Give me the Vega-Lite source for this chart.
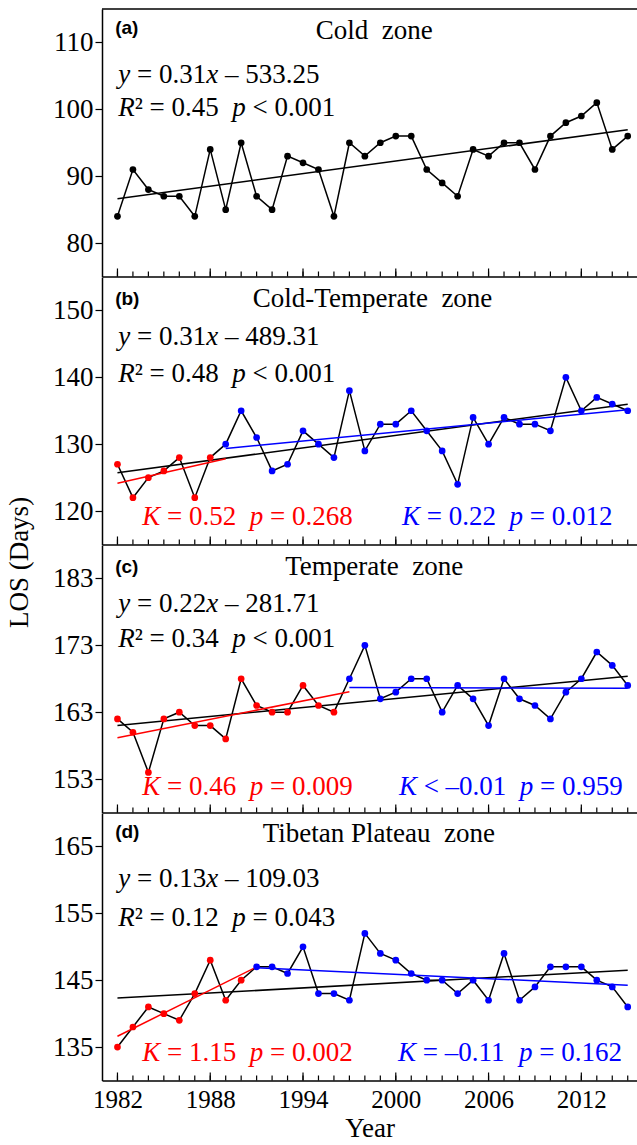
{
"$schema": "https://vega.github.io/schema/vega-lite/v6.json",
"padding": {"left": 4, "top": 8, "right": 0, "bottom": 0},
"spacing": 0,
"bounds": "flush",
"config": {
  "font": "Liberation Serif",
  "view": {"stroke": null},
  "axis": {"grid": false, "domainColor": "black", "domainWidth": 1.5, "tickColor": "black", "tickWidth": 1.2, "labelFont": "Liberation Serif", "labelFontSize": 27, "labelColor": "black", "titleFont": "Liberation Serif", "titleFontSize": 27, "titleFontWeight": "normal", "titleColor": "black"},
  "axisY": {"tickSize": 7, "labelPadding": 2},
  "text": {"font": "Liberation Serif", "fontSize": 27, "baseline": "alphabetic", "align": "left", "color": "black"}
},
"datasets": {
  "a": [
    {"year":1982,"los":84,"seg":"all"},{"year":1983,"los":91,"seg":"all"},{"year":1984,"los":88,"seg":"all"},{"year":1985,"los":87,"seg":"all"},{"year":1986,"los":87,"seg":"all"},{"year":1987,"los":84,"seg":"all"},{"year":1988,"los":94,"seg":"all"},{"year":1989,"los":85,"seg":"all"},{"year":1990,"los":95,"seg":"all"},{"year":1991,"los":87,"seg":"all"},{"year":1992,"los":85,"seg":"all"},{"year":1993,"los":93,"seg":"all"},{"year":1994,"los":92,"seg":"all"},{"year":1995,"los":91,"seg":"all"},{"year":1996,"los":84,"seg":"all"},{"year":1997,"los":95,"seg":"all"},{"year":1998,"los":93,"seg":"all"},{"year":1999,"los":95,"seg":"all"},{"year":2000,"los":96,"seg":"all"},{"year":2001,"los":96,"seg":"all"},{"year":2002,"los":91,"seg":"all"},{"year":2003,"los":89,"seg":"all"},{"year":2004,"los":87,"seg":"all"},{"year":2005,"los":94,"seg":"all"},{"year":2006,"los":93,"seg":"all"},{"year":2007,"los":95,"seg":"all"},{"year":2008,"los":95,"seg":"all"},{"year":2009,"los":91,"seg":"all"},{"year":2010,"los":96,"seg":"all"},{"year":2011,"los":98,"seg":"all"},{"year":2012,"los":99,"seg":"all"},{"year":2013,"los":101,"seg":"all"},{"year":2014,"los":94,"seg":"all"},{"year":2015,"los":96,"seg":"all"}
  ],
  "b": [
    {"year":1982,"los":127,"seg":"early"},{"year":1983,"los":122,"seg":"early"},{"year":1984,"los":125,"seg":"early"},{"year":1985,"los":126,"seg":"early"},{"year":1986,"los":128,"seg":"early"},{"year":1987,"los":122,"seg":"early"},{"year":1988,"los":128,"seg":"early"},{"year":1989,"los":130,"seg":"late"},{"year":1990,"los":135,"seg":"late"},{"year":1991,"los":131,"seg":"late"},{"year":1992,"los":126,"seg":"late"},{"year":1993,"los":127,"seg":"late"},{"year":1994,"los":132,"seg":"late"},{"year":1995,"los":130,"seg":"late"},{"year":1996,"los":128,"seg":"late"},{"year":1997,"los":138,"seg":"late"},{"year":1998,"los":129,"seg":"late"},{"year":1999,"los":133,"seg":"late"},{"year":2000,"los":133,"seg":"late"},{"year":2001,"los":135,"seg":"late"},{"year":2002,"los":132,"seg":"late"},{"year":2003,"los":129,"seg":"late"},{"year":2004,"los":124,"seg":"late"},{"year":2005,"los":134,"seg":"late"},{"year":2006,"los":130,"seg":"late"},{"year":2007,"los":134,"seg":"late"},{"year":2008,"los":133,"seg":"late"},{"year":2009,"los":133,"seg":"late"},{"year":2010,"los":132,"seg":"late"},{"year":2011,"los":140,"seg":"late"},{"year":2012,"los":135,"seg":"late"},{"year":2013,"los":137,"seg":"late"},{"year":2014,"los":136,"seg":"late"},{"year":2015,"los":135,"seg":"late"}
  ],
  "c": [
    {"year":1982,"los":162,"seg":"early"},{"year":1983,"los":160,"seg":"early"},{"year":1984,"los":154,"seg":"early"},{"year":1985,"los":162,"seg":"early"},{"year":1986,"los":163,"seg":"early"},{"year":1987,"los":161,"seg":"early"},{"year":1988,"los":161,"seg":"early"},{"year":1989,"los":159,"seg":"early"},{"year":1990,"los":168,"seg":"early"},{"year":1991,"los":164,"seg":"early"},{"year":1992,"los":163,"seg":"early"},{"year":1993,"los":163,"seg":"early"},{"year":1994,"los":167,"seg":"early"},{"year":1995,"los":164,"seg":"early"},{"year":1996,"los":163,"seg":"early"},{"year":1997,"los":168,"seg":"late"},{"year":1998,"los":173,"seg":"late"},{"year":1999,"los":165,"seg":"late"},{"year":2000,"los":166,"seg":"late"},{"year":2001,"los":168,"seg":"late"},{"year":2002,"los":168,"seg":"late"},{"year":2003,"los":163,"seg":"late"},{"year":2004,"los":167,"seg":"late"},{"year":2005,"los":165,"seg":"late"},{"year":2006,"los":161,"seg":"late"},{"year":2007,"los":168,"seg":"late"},{"year":2008,"los":165,"seg":"late"},{"year":2009,"los":164,"seg":"late"},{"year":2010,"los":162,"seg":"late"},{"year":2011,"los":166,"seg":"late"},{"year":2012,"los":168,"seg":"late"},{"year":2013,"los":172,"seg":"late"},{"year":2014,"los":170,"seg":"late"},{"year":2015,"los":167,"seg":"late"}
  ],
  "d": [
    {"year":1982,"los":135,"seg":"early"},{"year":1983,"los":138,"seg":"early"},{"year":1984,"los":141,"seg":"early"},{"year":1985,"los":140,"seg":"early"},{"year":1986,"los":139,"seg":"early"},{"year":1987,"los":143,"seg":"early"},{"year":1988,"los":148,"seg":"early"},{"year":1989,"los":142,"seg":"early"},{"year":1990,"los":145,"seg":"early"},{"year":1991,"los":147,"seg":"late"},{"year":1992,"los":147,"seg":"late"},{"year":1993,"los":146,"seg":"late"},{"year":1994,"los":150,"seg":"late"},{"year":1995,"los":143,"seg":"late"},{"year":1996,"los":143,"seg":"late"},{"year":1997,"los":142,"seg":"late"},{"year":1998,"los":152,"seg":"late"},{"year":1999,"los":149,"seg":"late"},{"year":2000,"los":148,"seg":"late"},{"year":2001,"los":146,"seg":"late"},{"year":2002,"los":145,"seg":"late"},{"year":2003,"los":145,"seg":"late"},{"year":2004,"los":143,"seg":"late"},{"year":2005,"los":145,"seg":"late"},{"year":2006,"los":142,"seg":"late"},{"year":2007,"los":149,"seg":"late"},{"year":2008,"los":142,"seg":"late"},{"year":2009,"los":144,"seg":"late"},{"year":2010,"los":147,"seg":"late"},{"year":2011,"los":147,"seg":"late"},{"year":2012,"los":147,"seg":"late"},{"year":2013,"los":145,"seg":"late"},{"year":2014,"los":144,"seg":"late"},{"year":2015,"los":141,"seg":"late"}
  ]
},
"vconcat": [
  {
    "width": 535, "height": 267.5,
    "layer": [
      {"data": {"name": "a"}, "mark": {"type": "line", "color": "black", "strokeWidth": 1.5},
       "encoding": {
        "x": {"field": "year", "type": "quantitative", "scale": {"domain": [1981, 2015.6], "nice": false, "zero": false},
              "axis": {"values": [1982, 1988, 1994, 2000, 2006, 2012], "ticks": false, "labels": false, "title": null}},
        "y": {"field": "los", "type": "quantitative", "scale": {"domain": [75, 115], "nice": false, "zero": false}, "axis": {"values": [80, 90, 100, 110], "title": null}}}},
      {"data": {"name": "a"}, "mark": {"type": "rule", "color": "black", "strokeWidth": 1.2},
       "encoding": {"x": {"field": "year", "type": "quantitative"}, "y": {"datum": 75, "type": "quantitative"}, "y2": {"datum": 75.75}}},
      {"data": {"name": "a"}, "transform": [{"filter": "(datum.year - 1982) % 6 == 0"}], "mark": {"type": "rule", "color": "black", "strokeWidth": 1.2},
       "encoding": {"x": {"field": "year", "type": "quantitative"}, "y": {"datum": 75, "type": "quantitative"}, "y2": {"datum": 76.2}}},
      {"data": {"name": "a"}, "transform": [{"regression": "los", "on": "year"}], "mark": {"type": "line", "color": "black", "strokeWidth": 1.5},
       "encoding": {"x": {"field": "year", "type": "quantitative"}, "y": {"field": "los", "type": "quantitative"}}},
      {"data": {"name": "a"}, "mark": {"type": "circle", "size": 45, "opacity": 1, "color": "black"},
       "encoding": {"x": {"field": "year", "type": "quantitative"}, "y": {"field": "los", "type": "quantitative"}}},
      {"data": {"values": [{}]}, "mark": {"type": "rule", "color": "black", "strokeWidth": 1.5}, "encoding": {"x": {"datum": 1981, "type": "quantitative"}, "x2": {"datum": 2015.6}, "y": {"datum": 115, "type": "quantitative"}}},
      {"data": {"values": [{}]}, "mark": {"type": "text", "text": "(a)", "font": "Liberation Sans", "fontWeight": "bold", "fontSize": 19}, "encoding": {"x": {"datum": 1981.85, "type": "quantitative"}, "y": {"datum": 111.25, "type": "quantitative"}}},
      {"data": {"values": [{}]}, "mark": {"type": "text", "text": "Cold\u00a0 zone", "align": "center"}, "encoding": {"x": {"datum": 1998.6, "type": "quantitative"}, "y": {"datum": 110.47, "type": "quantitative"}}},
      {"data": {"values": [{}]}, "mark": {"type": "text", "text": "y", "fontStyle": "italic"}, "encoding": {"x": {"datum": 1982.05, "type": "quantitative"}, "y": {"datum": 103.98, "type": "quantitative"}}},
      {"data": {"values": [{}]}, "mark": {"type": "text", "text": "= 0.31"}, "encoding": {"x": {"datum": 1983.262, "type": "quantitative"}, "y": {"datum": 103.98, "type": "quantitative"}}},
      {"data": {"values": [{}]}, "mark": {"type": "text", "text": "x", "fontStyle": "italic"}, "encoding": {"x": {"datum": 1987.739, "type": "quantitative"}, "y": {"datum": 103.98, "type": "quantitative"}}},
      {"data": {"values": [{}]}, "mark": {"type": "text", "text": "– 533.25"}, "encoding": {"x": {"datum": 1988.951, "type": "quantitative"}, "y": {"datum": 103.98, "type": "quantitative"}}},
      {"data": {"values": [{}]}, "mark": {"type": "text", "text": "R", "fontStyle": "italic"}, "encoding": {"x": {"datum": 1982.05, "type": "quantitative"}, "y": {"datum": 99.0, "type": "quantitative"}}},
      {"data": {"values": [{}]}, "mark": {"type": "text", "text": "² = 0.45"}, "encoding": {"x": {"datum": 1983.117, "type": "quantitative"}, "y": {"datum": 99.0, "type": "quantitative"}}},
      {"data": {"values": [{}]}, "mark": {"type": "text", "text": "p", "fontStyle": "italic"}, "encoding": {"x": {"datum": 1989.428, "type": "quantitative"}, "y": {"datum": 99.0, "type": "quantitative"}}},
      {"data": {"values": [{}]}, "mark": {"type": "text", "text": "< 0.001"}, "encoding": {"x": {"datum": 1990.737, "type": "quantitative"}, "y": {"datum": 99.0, "type": "quantitative"}}}
    ]
  },
  {
    "width": 535, "height": 267.5,
    "layer": [
      {"data": {"name": "b"}, "mark": {"type": "line", "color": "black", "strokeWidth": 1.5},
       "encoding": {
        "x": {"field": "year", "type": "quantitative", "scale": {"domain": [1981, 2015.6], "nice": false, "zero": false},
              "axis": {"values": [1982, 1988, 1994, 2000, 2006, 2012], "ticks": false, "labels": false, "title": null}},
        "y": {"field": "los", "type": "quantitative", "scale": {"domain": [115, 155], "nice": false, "zero": false}, "axis": {"values": [120, 130, 140, 150], "title": null}}}},
      {"data": {"name": "b"}, "mark": {"type": "rule", "color": "black", "strokeWidth": 1.2},
       "encoding": {"x": {"field": "year", "type": "quantitative"}, "y": {"datum": 115, "type": "quantitative"}, "y2": {"datum": 115.75}}},
      {"data": {"name": "b"}, "transform": [{"filter": "(datum.year - 1982) % 6 == 0"}], "mark": {"type": "rule", "color": "black", "strokeWidth": 1.2},
       "encoding": {"x": {"field": "year", "type": "quantitative"}, "y": {"datum": 115, "type": "quantitative"}, "y2": {"datum": 116.2}}},
      {"data": {"name": "b"}, "transform": [{"regression": "los", "on": "year"}], "mark": {"type": "line", "color": "black", "strokeWidth": 1.5},
       "encoding": {"x": {"field": "year", "type": "quantitative"}, "y": {"field": "los", "type": "quantitative"}}},
      {"data": {"name": "b"}, "transform": [{"filter": "datum.year <= 1989"}, {"regression": "los", "on": "year"}], "mark": {"type": "line", "color": "#ff0000", "strokeWidth": 1.5},
       "encoding": {"x": {"field": "year", "type": "quantitative"}, "y": {"field": "los", "type": "quantitative"}}},
      {"data": {"name": "b"}, "transform": [{"filter": "datum.year >= 1989"}, {"regression": "los", "on": "year"}], "mark": {"type": "line", "color": "#0000ff", "strokeWidth": 1.5},
       "encoding": {"x": {"field": "year", "type": "quantitative"}, "y": {"field": "los", "type": "quantitative"}}},
      {"data": {"name": "b"}, "mark": {"type": "circle", "size": 45, "opacity": 1},
       "encoding": {"x": {"field": "year", "type": "quantitative"}, "y": {"field": "los", "type": "quantitative"}, "color": {"field": "seg", "type": "nominal", "scale": {"domain": ["all", "early", "late"], "range": ["black", "#ff0000", "#0000ff"]}, "legend": null}}},
      {"data": {"values": [{}]}, "mark": {"type": "text", "text": "(b)", "font": "Liberation Sans", "fontWeight": "bold", "fontSize": 19}, "encoding": {"x": {"datum": 1981.85, "type": "quantitative"}, "y": {"datum": 150.85, "type": "quantitative"}}},
      {"data": {"values": [{}]}, "mark": {"type": "text", "text": "Cold-Temperate\u00a0 zone", "align": "center"}, "encoding": {"x": {"datum": 1998.5, "type": "quantitative"}, "y": {"datum": 150.5, "type": "quantitative"}}},
      {"data": {"values": [{}]}, "mark": {"type": "text", "text": "y", "fontStyle": "italic"}, "encoding": {"x": {"datum": 1982.05, "type": "quantitative"}, "y": {"datum": 144.76, "type": "quantitative"}}},
      {"data": {"values": [{}]}, "mark": {"type": "text", "text": "= 0.31"}, "encoding": {"x": {"datum": 1983.262, "type": "quantitative"}, "y": {"datum": 144.76, "type": "quantitative"}}},
      {"data": {"values": [{}]}, "mark": {"type": "text", "text": "x", "fontStyle": "italic"}, "encoding": {"x": {"datum": 1987.739, "type": "quantitative"}, "y": {"datum": 144.76, "type": "quantitative"}}},
      {"data": {"values": [{}]}, "mark": {"type": "text", "text": "– 489.31"}, "encoding": {"x": {"datum": 1988.951, "type": "quantitative"}, "y": {"datum": 144.76, "type": "quantitative"}}},
      {"data": {"values": [{}]}, "mark": {"type": "text", "text": "R", "fontStyle": "italic"}, "encoding": {"x": {"datum": 1982.05, "type": "quantitative"}, "y": {"datum": 139.37, "type": "quantitative"}}},
      {"data": {"values": [{}]}, "mark": {"type": "text", "text": "² = 0.48"}, "encoding": {"x": {"datum": 1983.117, "type": "quantitative"}, "y": {"datum": 139.37, "type": "quantitative"}}},
      {"data": {"values": [{}]}, "mark": {"type": "text", "text": "p", "fontStyle": "italic"}, "encoding": {"x": {"datum": 1989.428, "type": "quantitative"}, "y": {"datum": 139.37, "type": "quantitative"}}},
      {"data": {"values": [{}]}, "mark": {"type": "text", "text": "< 0.001"}, "encoding": {"x": {"datum": 1990.737, "type": "quantitative"}, "y": {"datum": 139.37, "type": "quantitative"}}},
      {"data": {"values": [{}]}, "mark": {"type": "text", "text": "K", "fontStyle": "italic", "color": "#ff0000"}, "encoding": {"x": {"datum": 1983.6, "type": "quantitative"}, "y": {"datum": 117.95, "type": "quantitative"}}},
      {"data": {"values": [{}]}, "mark": {"type": "text", "text": "= 0.52", "color": "#ff0000"}, "encoding": {"x": {"datum": 1985.201, "type": "quantitative"}, "y": {"datum": 117.95, "type": "quantitative"}}},
      {"data": {"values": [{}]}, "mark": {"type": "text", "text": "p", "fontStyle": "italic", "color": "#ff0000"}, "encoding": {"x": {"datum": 1990.552, "type": "quantitative"}, "y": {"datum": 117.95, "type": "quantitative"}}},
      {"data": {"values": [{}]}, "mark": {"type": "text", "text": "= 0.268", "color": "#ff0000"}, "encoding": {"x": {"datum": 1991.861, "type": "quantitative"}, "y": {"datum": 117.95, "type": "quantitative"}}},
      {"data": {"values": [{}]}, "mark": {"type": "text", "text": "K", "fontStyle": "italic", "color": "#0000ff"}, "encoding": {"x": {"datum": 2000.4, "type": "quantitative"}, "y": {"datum": 117.95, "type": "quantitative"}}},
      {"data": {"values": [{}]}, "mark": {"type": "text", "text": "= 0.22", "color": "#0000ff"}, "encoding": {"x": {"datum": 2002.001, "type": "quantitative"}, "y": {"datum": 117.95, "type": "quantitative"}}},
      {"data": {"values": [{}]}, "mark": {"type": "text", "text": "p", "fontStyle": "italic", "color": "#0000ff"}, "encoding": {"x": {"datum": 2007.352, "type": "quantitative"}, "y": {"datum": 117.95, "type": "quantitative"}}},
      {"data": {"values": [{}]}, "mark": {"type": "text", "text": "= 0.012", "color": "#0000ff"}, "encoding": {"x": {"datum": 2008.661, "type": "quantitative"}, "y": {"datum": 117.95, "type": "quantitative"}}}
    ]
  },
  {
    "width": 535, "height": 267.5,
    "layer": [
      {"data": {"name": "c"}, "mark": {"type": "line", "color": "black", "strokeWidth": 1.5},
       "encoding": {
        "x": {"field": "year", "type": "quantitative", "scale": {"domain": [1981, 2015.6], "nice": false, "zero": false},
              "axis": {"values": [1982, 1988, 1994, 2000, 2006, 2012], "ticks": false, "labels": false, "title": null}},
        "y": {"field": "los", "type": "quantitative", "scale": {"domain": [148, 188], "nice": false, "zero": false}, "axis": {"values": [153, 163, 173, 183], "title": "LOS (Days)", "titleX": -69, "titleY": 17}}}},
      {"data": {"name": "c"}, "mark": {"type": "rule", "color": "black", "strokeWidth": 1.2},
       "encoding": {"x": {"field": "year", "type": "quantitative"}, "y": {"datum": 148, "type": "quantitative"}, "y2": {"datum": 148.75}}},
      {"data": {"name": "c"}, "transform": [{"filter": "(datum.year - 1982) % 6 == 0"}], "mark": {"type": "rule", "color": "black", "strokeWidth": 1.2},
       "encoding": {"x": {"field": "year", "type": "quantitative"}, "y": {"datum": 148, "type": "quantitative"}, "y2": {"datum": 149.2}}},
      {"data": {"name": "c"}, "transform": [{"regression": "los", "on": "year"}], "mark": {"type": "line", "color": "black", "strokeWidth": 1.5},
       "encoding": {"x": {"field": "year", "type": "quantitative"}, "y": {"field": "los", "type": "quantitative"}}},
      {"data": {"name": "c"}, "transform": [{"filter": "datum.year <= 1997"}, {"regression": "los", "on": "year"}], "mark": {"type": "line", "color": "#ff0000", "strokeWidth": 1.5},
       "encoding": {"x": {"field": "year", "type": "quantitative"}, "y": {"field": "los", "type": "quantitative"}}},
      {"data": {"name": "c"}, "transform": [{"filter": "datum.year >= 1997"}, {"regression": "los", "on": "year"}], "mark": {"type": "line", "color": "#0000ff", "strokeWidth": 1.5},
       "encoding": {"x": {"field": "year", "type": "quantitative"}, "y": {"field": "los", "type": "quantitative"}}},
      {"data": {"name": "c"}, "mark": {"type": "circle", "size": 45, "opacity": 1},
       "encoding": {"x": {"field": "year", "type": "quantitative"}, "y": {"field": "los", "type": "quantitative"}, "color": {"field": "seg", "type": "nominal", "scale": {"domain": ["all", "early", "late"], "range": ["black", "#ff0000", "#0000ff"]}, "legend": null}}},
      {"data": {"values": [{}]}, "mark": {"type": "text", "text": "(c)", "font": "Liberation Sans", "fontWeight": "bold", "fontSize": 19}, "encoding": {"x": {"datum": 1981.85, "type": "quantitative"}, "y": {"datum": 183.86, "type": "quantitative"}}},
      {"data": {"values": [{}]}, "mark": {"type": "text", "text": "Temperate\u00a0 zone", "align": "center"}, "encoding": {"x": {"datum": 1998.6, "type": "quantitative"}, "y": {"datum": 183.47, "type": "quantitative"}}},
      {"data": {"values": [{}]}, "mark": {"type": "text", "text": "y", "fontStyle": "italic"}, "encoding": {"x": {"datum": 1982.05, "type": "quantitative"}, "y": {"datum": 177.98, "type": "quantitative"}}},
      {"data": {"values": [{}]}, "mark": {"type": "text", "text": "= 0.22"}, "encoding": {"x": {"datum": 1983.262, "type": "quantitative"}, "y": {"datum": 177.98, "type": "quantitative"}}},
      {"data": {"values": [{}]}, "mark": {"type": "text", "text": "x", "fontStyle": "italic"}, "encoding": {"x": {"datum": 1987.739, "type": "quantitative"}, "y": {"datum": 177.98, "type": "quantitative"}}},
      {"data": {"values": [{}]}, "mark": {"type": "text", "text": "– 281.71"}, "encoding": {"x": {"datum": 1988.951, "type": "quantitative"}, "y": {"datum": 177.98, "type": "quantitative"}}},
      {"data": {"values": [{}]}, "mark": {"type": "text", "text": "R", "fontStyle": "italic"}, "encoding": {"x": {"datum": 1982.05, "type": "quantitative"}, "y": {"datum": 172.75, "type": "quantitative"}}},
      {"data": {"values": [{}]}, "mark": {"type": "text", "text": "² = 0.34"}, "encoding": {"x": {"datum": 1983.117, "type": "quantitative"}, "y": {"datum": 172.75, "type": "quantitative"}}},
      {"data": {"values": [{}]}, "mark": {"type": "text", "text": "p", "fontStyle": "italic"}, "encoding": {"x": {"datum": 1989.428, "type": "quantitative"}, "y": {"datum": 172.75, "type": "quantitative"}}},
      {"data": {"values": [{}]}, "mark": {"type": "text", "text": "< 0.001"}, "encoding": {"x": {"datum": 1990.737, "type": "quantitative"}, "y": {"datum": 172.75, "type": "quantitative"}}},
      {"data": {"values": [{}]}, "mark": {"type": "text", "text": "K", "fontStyle": "italic", "color": "#ff0000"}, "encoding": {"x": {"datum": 1983.6, "type": "quantitative"}, "y": {"datum": 150.57, "type": "quantitative"}}},
      {"data": {"values": [{}]}, "mark": {"type": "text", "text": "= 0.46", "color": "#ff0000"}, "encoding": {"x": {"datum": 1985.201, "type": "quantitative"}, "y": {"datum": 150.57, "type": "quantitative"}}},
      {"data": {"values": [{}]}, "mark": {"type": "text", "text": "p", "fontStyle": "italic", "color": "#ff0000"}, "encoding": {"x": {"datum": 1990.552, "type": "quantitative"}, "y": {"datum": 150.57, "type": "quantitative"}}},
      {"data": {"values": [{}]}, "mark": {"type": "text", "text": "= 0.009", "color": "#ff0000"}, "encoding": {"x": {"datum": 1991.861, "type": "quantitative"}, "y": {"datum": 150.57, "type": "quantitative"}}},
      {"data": {"values": [{}]}, "mark": {"type": "text", "text": "K", "fontStyle": "italic", "color": "#0000ff"}, "encoding": {"x": {"datum": 2000.2, "type": "quantitative"}, "y": {"datum": 150.57, "type": "quantitative"}}},
      {"data": {"values": [{}]}, "mark": {"type": "text", "text": "< –0.01", "color": "#0000ff"}, "encoding": {"x": {"datum": 2001.801, "type": "quantitative"}, "y": {"datum": 150.57, "type": "quantitative"}}},
      {"data": {"values": [{}]}, "mark": {"type": "text", "text": "p", "fontStyle": "italic", "color": "#0000ff"}, "encoding": {"x": {"datum": 2008.025, "type": "quantitative"}, "y": {"datum": 150.57, "type": "quantitative"}}},
      {"data": {"values": [{}]}, "mark": {"type": "text", "text": "= 0.959", "color": "#0000ff"}, "encoding": {"x": {"datum": 2009.334, "type": "quantitative"}, "y": {"datum": 150.57, "type": "quantitative"}}}
    ]
  },
  {
    "width": 535, "height": 267.5,
    "layer": [
      {"data": {"name": "d"}, "mark": {"type": "line", "color": "black", "strokeWidth": 1.5},
       "encoding": {
        "x": {"field": "year", "type": "quantitative", "scale": {"domain": [1981, 2015.6], "nice": false, "zero": false},
              "axis": {"values": [1982, 1988, 1994, 2000, 2006, 2012], "ticks": false, "labels": true, "format": "d", "labelOverlap": false, "labelFlush": false, "labelFontSize": 25, "labelPadding": 7, "title": "Year", "titlePadding": 3}},
        "y": {"field": "los", "type": "quantitative", "scale": {"domain": [130, 170], "nice": false, "zero": false}, "axis": {"values": [135, 145, 155, 165], "title": null}}}},
      {"data": {"name": "d"}, "mark": {"type": "rule", "color": "black", "strokeWidth": 1.2},
       "encoding": {"x": {"field": "year", "type": "quantitative"}, "y": {"datum": 130, "type": "quantitative"}, "y2": {"datum": 130.75}}},
      {"data": {"name": "d"}, "transform": [{"filter": "(datum.year - 1982) % 6 == 0"}], "mark": {"type": "rule", "color": "black", "strokeWidth": 1.2},
       "encoding": {"x": {"field": "year", "type": "quantitative"}, "y": {"datum": 130, "type": "quantitative"}, "y2": {"datum": 131.2}}},
      {"data": {"name": "d"}, "transform": [{"regression": "los", "on": "year"}], "mark": {"type": "line", "color": "black", "strokeWidth": 1.5},
       "encoding": {"x": {"field": "year", "type": "quantitative"}, "y": {"field": "los", "type": "quantitative"}}},
      {"data": {"name": "d"}, "transform": [{"filter": "datum.year <= 1991"}, {"regression": "los", "on": "year"}], "mark": {"type": "line", "color": "#ff0000", "strokeWidth": 1.5},
       "encoding": {"x": {"field": "year", "type": "quantitative"}, "y": {"field": "los", "type": "quantitative"}}},
      {"data": {"name": "d"}, "transform": [{"filter": "datum.year >= 1991"}, {"regression": "los", "on": "year"}], "mark": {"type": "line", "color": "#0000ff", "strokeWidth": 1.5},
       "encoding": {"x": {"field": "year", "type": "quantitative"}, "y": {"field": "los", "type": "quantitative"}}},
      {"data": {"name": "d"}, "mark": {"type": "circle", "size": 45, "opacity": 1},
       "encoding": {"x": {"field": "year", "type": "quantitative"}, "y": {"field": "los", "type": "quantitative"}, "color": {"field": "seg", "type": "nominal", "scale": {"domain": ["all", "early", "late"], "range": ["black", "#ff0000", "#0000ff"]}, "legend": null}}},
      {"data": {"values": [{}]}, "mark": {"type": "text", "text": "(d)", "font": "Liberation Sans", "fontWeight": "bold", "fontSize": 19}, "encoding": {"x": {"datum": 1981.85, "type": "quantitative"}, "y": {"datum": 166.2, "type": "quantitative"}}},
      {"data": {"values": [{}]}, "mark": {"type": "text", "text": "Tibetan Plateau\u00a0 zone", "align": "center"}, "encoding": {"x": {"datum": 1998.9, "type": "quantitative"}, "y": {"datum": 165.6, "type": "quantitative"}}},
      {"data": {"values": [{}]}, "mark": {"type": "text", "text": "y", "fontStyle": "italic"}, "encoding": {"x": {"datum": 1982.05, "type": "quantitative"}, "y": {"datum": 158.86, "type": "quantitative"}}},
      {"data": {"values": [{}]}, "mark": {"type": "text", "text": "= 0.13"}, "encoding": {"x": {"datum": 1983.262, "type": "quantitative"}, "y": {"datum": 158.86, "type": "quantitative"}}},
      {"data": {"values": [{}]}, "mark": {"type": "text", "text": "x", "fontStyle": "italic"}, "encoding": {"x": {"datum": 1987.739, "type": "quantitative"}, "y": {"datum": 158.86, "type": "quantitative"}}},
      {"data": {"values": [{}]}, "mark": {"type": "text", "text": "– 109.03"}, "encoding": {"x": {"datum": 1988.951, "type": "quantitative"}, "y": {"datum": 158.86, "type": "quantitative"}}},
      {"data": {"values": [{}]}, "mark": {"type": "text", "text": "R", "fontStyle": "italic"}, "encoding": {"x": {"datum": 1982.05, "type": "quantitative"}, "y": {"datum": 153.13, "type": "quantitative"}}},
      {"data": {"values": [{}]}, "mark": {"type": "text", "text": "² = 0.12"}, "encoding": {"x": {"datum": 1983.117, "type": "quantitative"}, "y": {"datum": 153.13, "type": "quantitative"}}},
      {"data": {"values": [{}]}, "mark": {"type": "text", "text": "p", "fontStyle": "italic"}, "encoding": {"x": {"datum": 1989.428, "type": "quantitative"}, "y": {"datum": 153.13, "type": "quantitative"}}},
      {"data": {"values": [{}]}, "mark": {"type": "text", "text": "= 0.043"}, "encoding": {"x": {"datum": 1990.737, "type": "quantitative"}, "y": {"datum": 153.13, "type": "quantitative"}}},
      {"data": {"values": [{}]}, "mark": {"type": "text", "text": "K", "fontStyle": "italic", "color": "#ff0000"}, "encoding": {"x": {"datum": 1983.6, "type": "quantitative"}, "y": {"datum": 132.95, "type": "quantitative"}}},
      {"data": {"values": [{}]}, "mark": {"type": "text", "text": "= 1.15", "color": "#ff0000"}, "encoding": {"x": {"datum": 1985.201, "type": "quantitative"}, "y": {"datum": 132.95, "type": "quantitative"}}},
      {"data": {"values": [{}]}, "mark": {"type": "text", "text": "p", "fontStyle": "italic", "color": "#ff0000"}, "encoding": {"x": {"datum": 1990.552, "type": "quantitative"}, "y": {"datum": 132.95, "type": "quantitative"}}},
      {"data": {"values": [{}]}, "mark": {"type": "text", "text": "= 0.002", "color": "#ff0000"}, "encoding": {"x": {"datum": 1991.861, "type": "quantitative"}, "y": {"datum": 132.95, "type": "quantitative"}}},
      {"data": {"values": [{}]}, "mark": {"type": "text", "text": "K", "fontStyle": "italic", "color": "#0000ff"}, "encoding": {"x": {"datum": 2000.15, "type": "quantitative"}, "y": {"datum": 132.95, "type": "quantitative"}}},
      {"data": {"values": [{}]}, "mark": {"type": "text", "text": "= –0.11", "color": "#0000ff"}, "encoding": {"x": {"datum": 2001.751, "type": "quantitative"}, "y": {"datum": 132.95, "type": "quantitative"}}},
      {"data": {"values": [{}]}, "mark": {"type": "text", "text": "p", "fontStyle": "italic", "color": "#0000ff"}, "encoding": {"x": {"datum": 2007.975, "type": "quantitative"}, "y": {"datum": 132.95, "type": "quantitative"}}},
      {"data": {"values": [{}]}, "mark": {"type": "text", "text": "= 0.162", "color": "#0000ff"}, "encoding": {"x": {"datum": 2009.284, "type": "quantitative"}, "y": {"datum": 132.95, "type": "quantitative"}}}
    ]
  }
]
}
